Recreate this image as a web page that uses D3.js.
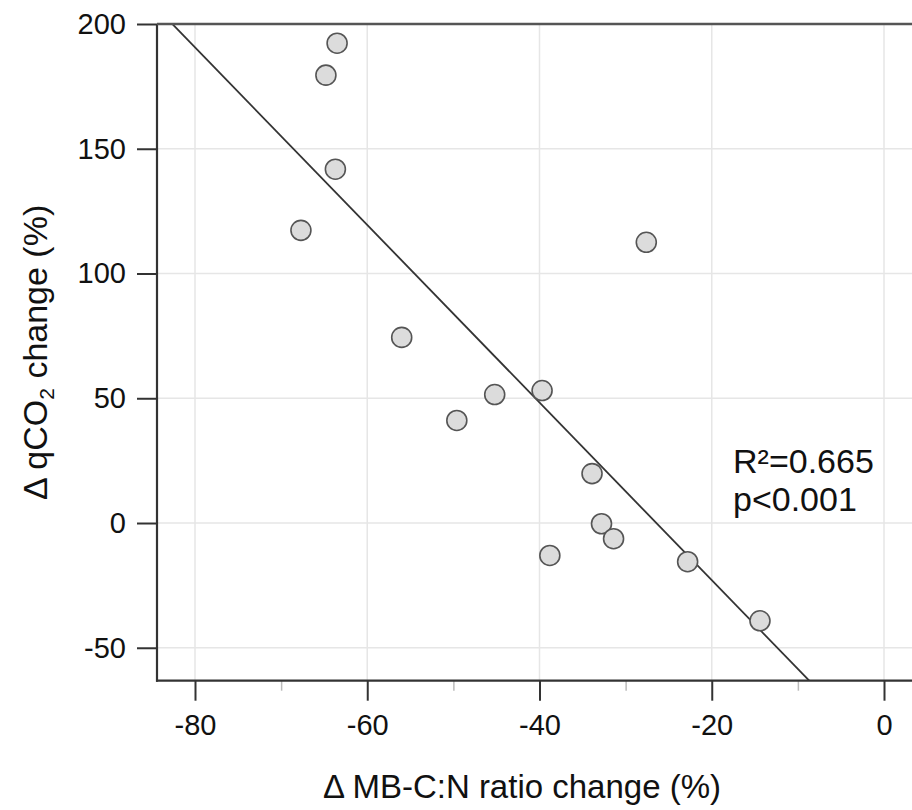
<!DOCTYPE html>
<html>
<head>
<meta charset="utf-8">
<script src="https://cdn.jsdelivr.net/npm/d3@7"></script>
<style>
  body { margin: 0; background: #ffffff; }
  svg text { font-family: "Liberation Sans", Arial, Helvetica, sans-serif; fill: #111; }
</style>
</head>
<body>
<svg id="chart" width="912" height="810"></svg>
<script>
// change in MB-C:N ratio (%) for each site
var cnChange = [-63.5, -64.8, -63.7, -67.7, -56.0, -45.2, -49.6, -39.7, -38.8, -33.9, -32.8, -31.4, -27.6, -22.8, -14.4];
// matching change in qCO2 (%)
var qco2Change = [192.3, 179.5, 141.8, 117.3, 74.4, 51.5, 41.1, 53.1, -13.0, 19.8, -0.3, -6.3, 112.5, -15.5, -39.2];

var xTicks = [-80, -60, -40, -20, 0];
var xMinorTicks = [-70, -50, -30, -10];
var yTicks = [-50, 0, 50, 100, 150, 200];
var statLines = ["R\u00b2=0.665", "p<0.001"];

var vis = { width: 912, height: 810, left: 157, top: 24, right: 912, bottom: 680.7 };

/*
  NAME: drawScatter
  DESCRIPTION: builds scales, grid, fit line, points and axes
*/
function drawScatter() {
  var svg = d3.select("#chart");

  var x = d3.scaleLinear().domain([-80, 0]).range([195, 884]);
  var y = d3.scaleLinear().domain([-63.2, 200]).range([vis.bottom, vis.top]);

  // plain hyphen for negative labels, as in the original figure
  var plainFormat = function (d) { return String(d); };

  svg.append("defs")
    .append("clipPath")
    .attr("id", "plot-clip")
    .append("rect")
    .attr("x", vis.left)
    .attr("y", vis.top)
    .attr("width", vis.right - vis.left)
    .attr("height", vis.bottom - vis.top);

  // grid lines
  svg.append("g")
    .selectAll("line.vgrid")
    .data(xTicks)
    .enter()
    .append("line")
    .attr("x1", function (d) { return x(d); })
    .attr("x2", function (d) { return x(d); })
    .attr("y1", vis.top)
    .attr("y2", vis.bottom)
    .style("stroke", "#e6e6e6")
    .style("stroke-width", 1.5);

  svg.append("g")
    .selectAll("line.hgrid")
    .data(yTicks.filter(function (d) { return d < 200; }))
    .enter()
    .append("line")
    .attr("x1", vis.left)
    .attr("x2", vis.right)
    .attr("y1", function (d) { return y(d); })
    .attr("y2", function (d) { return y(d); })
    .style("stroke", "#e6e6e6")
    .style("stroke-width", 1.5);

  // least squares fit of the points
  var mx = d3.mean(cnChange), my = d3.mean(qco2Change);
  var sxy = 0, sxx = 0;
  cnChange.forEach(function (d, i) {
    sxy += (d - mx) * (qco2Change[i] - my);
    sxx += (d - mx) * (d - mx);
  });
  var slope = sxy / sxx;
  var intercept = my - slope * mx;
  var x0 = x.invert(vis.left), x1 = x.invert(vis.right);

  svg.append("line")
    .attr("clip-path", "url(#plot-clip)")
    .attr("x1", x(x0))
    .attr("y1", y(intercept + slope * x0))
    .attr("x2", x(x1))
    .attr("y2", y(intercept + slope * x1))
    .style("stroke", "#333")
    .style("stroke-width", 1.8);

  // points
  svg.append("g")
    .selectAll("circle")
    .data(cnChange)
    .enter()
    .append("circle")
    .attr("cx", function (d) { return x(d); })
    .attr("cy", function (d, i) { return y(qco2Change[i]); })
    .attr("r", 10)
    .style("fill", "#dcdcdc")
    .style("stroke", "#555")
    .style("stroke-width", 1.6);

  // axes
  var xAxis = svg.append("g")
    .attr("transform", "translate(0," + vis.bottom + ")")
    .call(d3.axisBottom(x).tickValues(xTicks).tickFormat(plainFormat).tickSize(20).tickPadding(14));
  xAxis.select(".domain").remove();
  xAxis.selectAll("line").style("stroke", "#333").style("stroke-width", 2);
  xAxis.selectAll("text").style("font-size", "29px").attr("fill", "#111");

  var xMinor = svg.append("g")
    .attr("transform", "translate(0," + vis.bottom + ")")
    .call(d3.axisBottom(x).tickValues(xMinorTicks).tickSize(10).tickFormat(""));
  xMinor.select(".domain").remove();
  xMinor.selectAll("line").style("stroke", "#bbb").style("stroke-width", 1.5);

  var yAxis = svg.append("g")
    .attr("transform", "translate(" + vis.left + ",0)")
    .call(d3.axisLeft(y).tickValues(yTicks).tickFormat(plainFormat).tickSize(20).tickPadding(11));
  yAxis.select(".domain").remove();
  yAxis.selectAll("line").style("stroke", "#333").style("stroke-width", 2);
  yAxis.selectAll("text").style("font-size", "29px").attr("fill", "#111");

  // frame lines
  svg.append("line")
    .attr("x1", vis.left).attr("x2", vis.left)
    .attr("y1", vis.top).attr("y2", vis.bottom + 1)
    .style("stroke", "#333").style("stroke-width", 2.2);
  svg.append("line")
    .attr("x1", vis.left - 1).attr("x2", vis.right)
    .attr("y1", vis.bottom).attr("y2", vis.bottom)
    .style("stroke", "#333").style("stroke-width", 2.2);
  svg.append("line")
    .attr("x1", vis.left).attr("x2", vis.right)
    .attr("y1", vis.top).attr("y2", vis.top)
    .style("stroke", "#555").style("stroke-width", 2.5);

  // stats annotation
  svg.append("g")
    .selectAll("text")
    .data(statLines)
    .enter()
    .append("text")
    .attr("x", 733)
    .attr("y", function (d, i) { return 473 + i * 38; })
    .style("font-size", "34px")
    .text(function (d) { return d; });

  // axis titles
  svg.append("text")
    .attr("x", 522)
    .attr("y", 798)
    .attr("text-anchor", "middle")
    .style("font-size", "33px")
    .text("\u0394 MB-C:N ratio change (%)");

  var yTitle = svg.append("text")
    .attr("transform", "translate(47," + ((vis.top + vis.bottom) / 2) + ") rotate(-90)")
    .attr("text-anchor", "middle")
    .style("font-size", "34px");
  yTitle.append("tspan").text("\u0394 qCO");
  yTitle.append("tspan").attr("dy", 7).style("font-size", "21px").text("2");
  yTitle.append("tspan").attr("dy", -7).text(" change (%)");

  return;
} // end function drawScatter

drawScatter();
</script>
</body>
</html>
